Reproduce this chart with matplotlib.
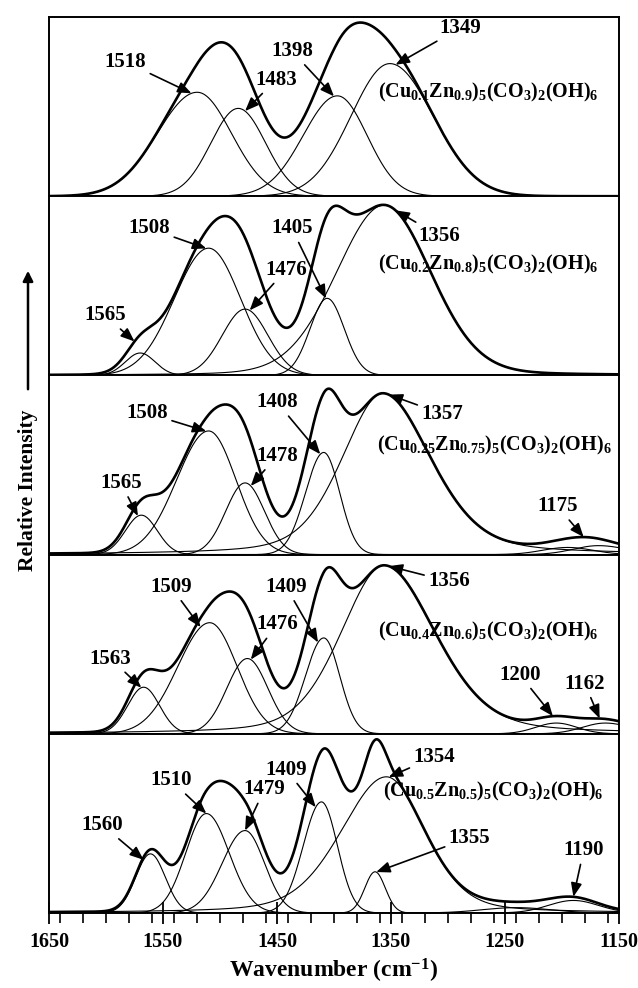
import numpy as np
import matplotlib
matplotlib.use("Agg")
import matplotlib.pyplot as plt
from matplotlib.ticker import MultipleLocator

plt.rcParams['font.family'] = ['Liberation Serif', 'DejaVu Serif']
plt.rcParams['font.weight'] = 'bold'
plt.rcParams['mathtext.fontset'] = 'custom'
plt.rcParams['mathtext.rm'] = 'Liberation Serif:bold'
plt.rcParams['mathtext.it'] = 'Liberation Serif:bold'
plt.rcParams['mathtext.bf'] = 'Liberation Serif:bold'
plt.rcParams['mathtext.default'] = 'rm'

# ---------------- data ----------------
samples = [
    "(Cu$_{0.1}$Zn$_{0.9}$)$_{5}$(CO$_{3}$)$_{2}$(OH)$_{6}$",
    "(Cu$_{0.2}$Zn$_{0.8}$)$_{5}$(CO$_{3}$)$_{2}$(OH)$_{6}$",
    "(Cu$_{0.25}$Zn$_{0.75}$)$_{5}$(CO$_{3}$)$_{2}$(OH)$_{6}$",
    "(Cu$_{0.4}$Zn$_{0.6}$)$_{5}$(CO$_{3}$)$_{2}$(OH)$_{6}$",
    "(Cu$_{0.5}$Zn$_{0.5}$)$_{5}$(CO$_{3}$)$_{2}$(OH)$_{6}$",
]

# fitted bands per panel: centre (cm-1), height (rel.), width on high / low wavenumber side, Lorentzian fraction
p1_center = [1520, 1484, 1397, 1351]
p1_height = [0.58, 0.49, 0.56, 0.74]
p1_sig_hi = [35, 24, 30, 34]
p1_sig_lo = [30, 24, 26, 38]
p1_eta = [0, 0, 0, 0]

p2_center = [1570, 1510, 1478, 1406, 1356]
p2_height = [0.125, 0.71, 0.37, 0.43, 0.95]
p2_sig_hi = [13, 30, 20, 15, 42]
p2_sig_lo = [13, 28, 20, 15, 41]
p2_eta = [0, 0, 0, 0, 0.12]

p3_center = [1569, 1510, 1478, 1409, 1357, 1195, 1168]
p3_height = [0.22, 0.69, 0.40, 0.57, 0.90, 0.04, 0.05]
p3_sig_hi = [14, 28, 17, 16, 36, 22, 22]
p3_sig_lo = [14, 24, 17, 14, 42, 22, 25]
p3_eta = [0, 0, 0, 0, 0.35, 0, 0]

p4_center = [1567, 1509, 1476, 1409, 1356, 1205, 1162]
p4_height = [0.26, 0.62, 0.42, 0.535, 0.94, 0.06, 0.06]
p4_sig_hi = [14, 28, 18, 16, 38, 18, 20]
p4_sig_lo = [14, 24, 18, 14, 45, 18, 22]
p4_eta = [0, 0, 0, 0, 0.3, 0, 0]

p5_center = [1561, 1512, 1478, 1411, 1354, 1364, 1190, 1240]
p5_height = [0.33, 0.555, 0.46, 0.62, 0.76, 0.23, 0.07, 0.03]
p5_sig_hi = [13, 18, 20, 16, 40, 9, 22, 30]
p5_sig_lo = [13, 20, 17, 14, 34, 9, 22, 30]
p5_eta = [0, 0, 0, 0, 0.3, 0, 0, 0]

# peak labels: text, target wavenumber, curve index (-1 = envelope)
p1_lab = ['1518', '1483', '1398', '1349']
p1_lab_w = [1525, 1478, 1400, 1346]
p1_lab_curve = [0, 1, 2, 3]

p2_lab = ['1508', '1405', '1476', '1356', '1565']
p2_lab_w = [1512, 1407, 1474, 1346, 1575]
p2_lab_curve = [1, 3, 2, -1, -1]

p3_lab = ['1508', '1408', '1478', '1357', '1565', '1175']
p3_lab_w = [1512, 1412, 1473, 1352, 1572, 1181]
p3_lab_curve = [1, 3, 2, -1, 0, -1]

p4_lab = ['1509', '1409', '1476', '1356', '1563', '1200', '1162']
p4_lab_w = [1517, 1414, 1473, 1352, 1569, 1208, 1167]
p4_lab_curve = [1, 3, 2, -1, 0, -1, -1]

p5_lab = ['1560', '1510', '1479', '1409', '1354', '1355', '1190']
p5_lab_w = [1567, 1512, 1478, 1416, 1352, 1363, 1190]
p5_lab_curve = [0, 1, 2, 3, 4, 5, -1]

# ---------------- layout (label positions in wavenumber / panel fraction) ----------------
p1_txt = [(1583, 0.75), (1451, 0.65), (1437, 0.81), (1289, 0.94)]
p2_txt = [(1562, 0.82), (1437, 0.82), (1442, 0.59), (1308, 0.78), (1601, 0.335)]
p3_txt = [(1564, 0.79), (1450, 0.85), (1450, 0.55), (1305, 0.785), (1587, 0.40), (1204, 0.27)]
p4_txt = [(1543, 0.82), (1442, 0.82), (1450, 0.61), (1299, 0.85), (1596, 0.42), (1237, 0.33), (1180, 0.28)]
p5_txt = [(1603, 0.49), (1543, 0.74), (1461, 0.69), (1442, 0.80), (1312, 0.87), (1281, 0.42), (1181, 0.35)]
formula_pos = [(1361, 0.58), (1361, 0.62), (1362, 0.61), (1361, 0.57), (1357, 0.68)]

panels = [
    (p1_center, p1_height, p1_sig_hi, p1_sig_lo, p1_eta, p1_lab, p1_lab_w, p1_lab_curve, p1_txt),
    (p2_center, p2_height, p2_sig_hi, p2_sig_lo, p2_eta, p2_lab, p2_lab_w, p2_lab_curve, p2_txt),
    (p3_center, p3_height, p3_sig_hi, p3_sig_lo, p3_eta, p3_lab, p3_lab_w, p3_lab_curve, p3_txt),
    (p4_center, p4_height, p4_sig_hi, p4_sig_lo, p4_eta, p4_lab, p4_lab_w, p4_lab_curve, p4_txt),
    (p5_center, p5_height, p5_sig_hi, p5_sig_lo, p5_eta, p5_lab, p5_lab_w, p5_lab_curve, p5_txt),
]


def band(w, c, h, s_hi, s_lo, eta):
    w = np.asarray(w, dtype=float)
    s = np.where(w >= c, s_hi, s_lo)
    d = w - c
    g = np.exp(-d ** 2 / (2 * s ** 2))
    lor = 1.0 / (1.0 + (d / (1.1774 * s)) ** 2)
    return h * ((1 - eta) * g + eta * lor)


W = 638
H = 988
fig = plt.figure(figsize=(W / 100, H / 100), dpi=100)
gs = fig.add_gridspec(5, 1, left=49 / W, right=619 / W, top=1 - 17 / H, bottom=1 - 913 / H, hspace=0)

wn = np.linspace(1650, 1150, 1001)
for i, (cen, hei, shi, slo, eta, labs, labw, labc, txt) in enumerate(panels):
    ax = fig.add_subplot(gs[i, 0])
    comps = [band(wn, c, h, a, b, e) for c, h, a, b, e in zip(cen, hei, shi, slo, eta)]
    env = np.sum(comps, axis=0)
    for cp in comps:
        ax.plot(wn, cp, color='black', lw=0.8)
    ax.plot(wn, env, color='black', lw=1.9)
    ax.set_xlim(1650, 1150)
    ax.set_ylim(0, 1.0)
    for sp in ax.spines.values():
        sp.set_linewidth(1.4)
    ax.set_yticks([])
    for lab, tw, tc, (xt, yt) in zip(labs, labw, labc, txt):
        if tc < 0:
            ty = float(np.sum([band(tw, c, h, a, b, e) for c, h, a, b, e in zip(cen, hei, shi, slo, eta)]))
        else:
            ty = float(band(tw, cen[tc], hei[tc], shi[tc], slo[tc], eta[tc]))
        ax.annotate(lab, xy=(tw, ty), xytext=(xt, yt), textcoords='data',
                    ha='center', va='center', fontsize=15, fontweight='bold',
                    arrowprops=dict(arrowstyle='-|>,head_length=0.55,head_width=0.22',
                                    color='black', lw=1.2, shrinkA=1, shrinkB=0))
    fx, fy = formula_pos[i]
    ax.text(fx, fy, samples[i], ha='left', va='center', fontsize=14.5, fontweight='bold')
    if i < 4:
        ax.tick_params(axis='x', which='both', bottom=False, labelbottom=False)
    else:
        ax.set_xticks([1650, 1550, 1450, 1350, 1250, 1150])
        ax.xaxis.set_minor_locator(MultipleLocator(20))
        ax.tick_params(axis='x', which='major', direction='inout', length=16, width=1.3,
                       pad=6, labelsize=14.5)
        ax.tick_params(axis='x', which='minor', direction='out', length=7, width=1.2)
        for t in ax.get_xticklabels():
            t.set_fontweight('bold')

# x label
fig.text(334 / W, 1 - 971 / H, "Wavenumber (cm$^{-1}$)", ha='center', va='center',
         fontsize=17, fontweight='bold')

# y label with upward arrow
fig.text(28 / W, 1 - 490 / H, "Relative Intensity", rotation=90, ha='center', va='center',
         fontsize=15.5, fontweight='bold')
fig.add_artist(matplotlib.patches.FancyArrowPatch(
    (28 / W, 1 - 392 / H), (28 / W, 1 - 268 / H), transform=fig.transFigure,
    arrowstyle='-|>,head_length=6,head_width=3', color='black', lw=1.8, mutation_scale=1))

fig.savefig('out.png', dpi=100)
